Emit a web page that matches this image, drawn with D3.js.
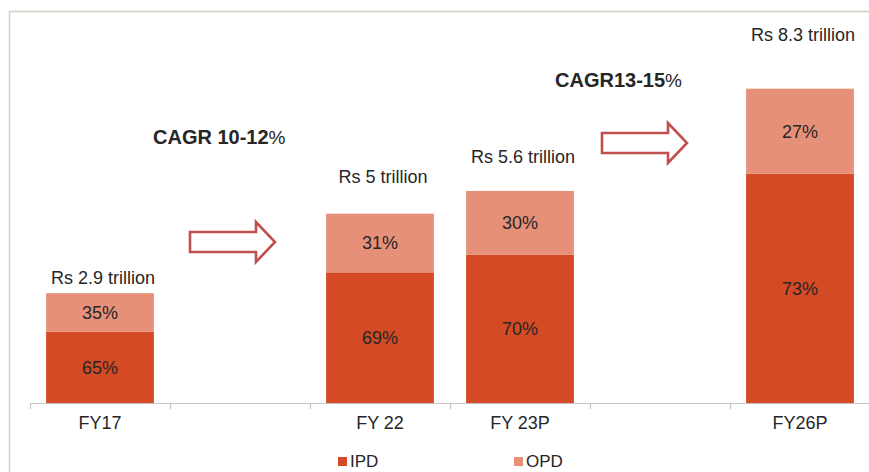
<!DOCTYPE html>
<html>
<head>
<meta charset="utf-8">
<script src="https://cdn.jsdelivr.net/npm/d3@7"></script>
<style>
  body { margin: 0; background: #fff; }
  svg text { font-family: "Liberation Sans", Arial, sans-serif; fill: #262626; }
</style>
</head>
<body>
<script>

// data
var slots = ["FY17", "gap1", "FY 22", "FY 23P", "gap2", "FY26P"];
var categories = ["FY17", "FY 22", "FY 23P", "FY26P"];
var totals = [2.9, 5, 5.6, 8.3];          // Rs trillion
var ipdShare = [65, 69, 70, 73];
var opdShare = [35, 31, 30, 27];
var totalLabels = ["Rs 2.9 trillion", "Rs 5 trillion", "Rs 5.6 trillion", "Rs 8.3 trillion"];
var cagrLabels = ["CAGR 10-12", "CAGR13-15"];
var seriesNames = ["IPD", "OPD"];

// layout
var width = 869, height = 472,
    baseY = 403, topY = 83;
var colors = {IPD: "#d34a24", OPD: "#e6907a"};
var totalLift = [9, 31, 28, 48];   // hand placed text boxes in the original

var svg = d3.select("body").append("svg")
    .attr("width", width)
    .attr("height", height);

// frame of the slide
svg.append("path")
    .attr("d", "M9.5," + height + "V11.5H" + width)
    .attr("fill", "none")
    .attr("stroke", "#d3cfc4")
    .attr("stroke-width", 1.5);

var x = d3.scaleBand()
    .domain(slots)
    .range([30, 870])
    .paddingInner(0.23)
    .paddingOuter(0.115);

var xEdge = d3.scaleLinear().domain([0, slots.length]).range([30, 870]);

var y = d3.scaleLinear()
    .domain([0, 8.45])
    .range([baseY, topY]);

var rows = categories.map(function(c, i) {
  return {cat: c, total: totals[i], IPD: totals[i] * ipdShare[i] / 100, OPD: totals[i] * opdShare[i] / 100,
          ipdPct: ipdShare[i], opdPct: opdShare[i]};
});

var stack = d3.stack().keys(seriesNames);
var series = stack(rows);

var g = svg.append("g");

g.selectAll(".series")
    .data(series)
  .enter().append("g")
    .attr("fill", function(d) { return colors[d.key]; })
  .selectAll("rect")
    .data(function(d) { return d; })
  .enter().append("rect")
    .attr("x", function(d) { return x(d.data.cat); })
    .attr("width", x.bandwidth())
    .attr("y", function(d) { return y(d[1]); })
    .attr("height", function(d) { return y(d[0]) - y(d[1]); });

// percentages inside the segments
series.forEach(function(s) {
  g.selectAll(null)
      .data(s)
    .enter().append("text")
      .attr("x", function(d) { return x(d.data.cat) + x.bandwidth() / 2; })
      .attr("y", function(d) { return (y(d[0]) + y(d[1])) / 2; })
      .attr("dy", "0.36em")
      .attr("text-anchor", "middle")
      .style("font-size", "18px")
      .text(function(d) { return (s.key == "IPD" ? d.data.ipdPct : d.data.opdPct) + "%"; });
});

// totals above bars
g.selectAll(".total")
    .data(rows)
  .enter().append("text")
    .attr("class", "total")
    .attr("x", function(d) { return x(d.cat) + x.bandwidth() / 2 + 3; })
    .attr("y", function(d, i) { return y(d.total) - totalLift[i]; })
    .attr("text-anchor", "middle")
    .style("font-size", "18px")
    .text(function(d, i) { return totalLabels[i]; });

// x axis: ticks on the category edges
var axisG = svg.append("g")
    .attr("transform", "translate(0," + baseY + ")")
    .call(d3.axisBottom(xEdge).tickValues(d3.range(slots.length + 1)).tickSize(6).tickSizeOuter(0).tickFormat(""));
axisG.selectAll("path, line").attr("stroke", "#c4c4c4").attr("stroke-width", 1.2);

var labelG = svg.append("g")
    .attr("transform", "translate(0," + baseY + ")")
    .call(d3.axisBottom(x).tickSize(0).tickPadding(13)
      .tickFormat(function(d) { return d.indexOf("gap") == 0 ? "" : d; }));
labelG.select(".domain").remove();
labelG.selectAll("text")
    .style("font-size", "18px")
    .style("font-family", "'Liberation Sans', Arial, sans-serif")
    .attr("fill", "#262626");

// CAGR notes and block arrows
var notes = [
  {text: cagrLabels[0], x: 153, y: 144, ax: 190, ay: 242},
  {text: cagrLabels[1], x: 555, y: 87, ax: 602, ay: 143}
];

notes.forEach(function(n) {
  var t = svg.append("text")
      .attr("x", n.x)
      .attr("y", n.y)
      .style("font-size", "20px")
      .style("font-weight", "bold");
  t.append("tspan").text(n.text);
  t.append("tspan").style("font-weight", "normal").style("font-size", "19px").text("%");

  var p = d3.path();
  p.moveTo(n.ax, n.ay - 10);
  p.lineTo(n.ax + 66, n.ay - 10);
  p.lineTo(n.ax + 66, n.ay - 20);
  p.lineTo(n.ax + 85, n.ay);
  p.lineTo(n.ax + 66, n.ay + 20);
  p.lineTo(n.ax + 66, n.ay + 10);
  p.lineTo(n.ax, n.ay + 10);
  p.closePath();
  svg.append("path")
      .attr("d", p.toString())
      .attr("fill", "#fff")
      .attr("stroke", "#c0504d")
      .attr("stroke-width", 2.6);
});

// legend
var legend = svg.append("g").attr("transform", "translate(338,457)");
var li = legend.selectAll("g")
    .data(seriesNames)
  .enter().append("g")
    .attr("transform", function(d, i) { return "translate(" + (i * 176) + ",0)"; });
li.append("rect")
    .attr("width", 9)
    .attr("height", 9)
    .attr("fill", function(d) { return colors[d]; });
li.append("text")
    .attr("x", 12)
    .attr("y", 10)
    .style("font-size", "17px")
    .text(function(d) { return d; });

</script>
</body>
</html>
